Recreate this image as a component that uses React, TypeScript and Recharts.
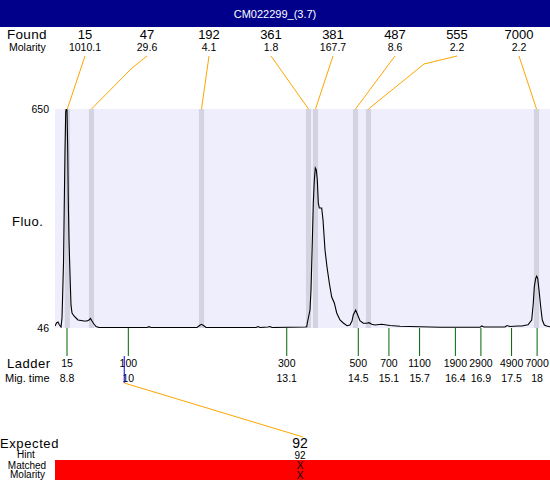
import React from 'react';
import { ComposedChart, Line, XAxis, YAxis, CartesianGrid, ReferenceArea, Customized } from 'recharts';

// ---------- data ----------
const title = 'CM022299_(3.7)';

const traceTimes = [
  8.565, 8.595, 8.624, 8.653, 8.683, 8.702, 8.712, 8.732, 8.745, 8.761, 8.775, 8.786, 8.8, 8.814, 8.825,
  8.839, 8.859, 8.878, 8.898, 8.937, 8.976, 9.015, 9.074, 9.133, 9.191, 9.231, 9.26, 9.289, 9.328, 9.368,
  9.426, 10.366, 10.405, 10.444, 11.344, 11.393, 11.432, 11.471, 11.52, 12.499, 12.538, 12.577, 12.733,
  12.773, 12.812, 13.458, 13.491, 13.503, 13.555, 13.575, 13.6, 13.62, 13.64, 13.659, 13.679, 13.698,
  13.718, 13.737, 13.784, 13.81, 13.849, 13.888, 13.933, 13.98, 14.031, 14.078, 14.142, 14.207, 14.28,
  14.337, 14.377, 14.402, 14.449, 14.481, 14.533, 14.598, 14.665, 14.71, 14.763, 14.827, 14.958, 15.12,
  15.316, 15.708, 16.1, 16.882, 16.915, 16.96, 17.371, 17.41, 17.469, 17.626, 17.704, 17.796, 17.822,
  17.894, 17.925, 17.945, 17.972, 17.992, 18.011, 18.037, 18.07, 18.101, 18.141, 18.188, 18.252,
];
const traceFluo = [
  51.5, 59.8, 62.5, 54.3, 48.8, 73.6, 123.2, 228, 371, 537, 642, 650, 647, 537, 399,
  289, 192, 109, 87.4, 79.1, 73.6, 68.1, 66.7, 65.3, 65.3, 68.1, 72.2, 65.3, 57, 50.1,
  47.4, 47.4, 49.6, 47.4, 47.4, 52.9, 56.2, 52.9, 47.4, 47.4, 50.1, 47.4, 48.8,
  50.1, 47.4, 48.8, 49.6, 59.8, 95.6, 150.8, 280.4, 390.8, 454.2, 487.3, 481.8, 454.2,
  390.8, 377.1, 377.1, 343.9, 261.1, 214.2, 170.1, 131.5, 115, 87.4, 68.1, 59.8, 52.3,
  54.3, 65.3, 81.9, 95.6, 84.6, 66.1, 59, 59, 60.6, 56.2, 54.3, 56.2, 52.9,
  50.7, 49.6, 47.9, 47.9, 51.5, 48.8, 48.8, 52.9, 50.1, 51.5, 51.5, 54.3, 55,
  68.1, 114.1, 159.9, 183.1, 189.4, 183.1, 150.8, 104.7, 68.1, 54.3, 51.5, 49.6,
];

const yTicks = [46, 650];
const timeDomain: [number, number] = [8.565, 18.252];

const foundSizes = ['15', '47', '192', '361', '381', '487', '555', '7000'];
const foundMolarity = ['1010.1', '29.6', '4.1', '1.8', '167.7', '8.6', '2.2', '2.2'];
const foundTimes = [8.806, 9.279, 11.432, 13.526, 13.663, 14.446, 14.7, 17.988];

const ladderSizes = ['15', '100', '300', '500', '700', '1100', '1900', '2900', '4900', '7000'];
const ladderTimes = [8.8, 10, 13.1, 14.5, 15.1, 15.7, 16.4, 16.9, 17.5, 18];
const ladderTimeLabels = ['8.8', '10', '13.1', '14.5', '15.1', '15.7', '16.4', '16.9', '17.5', '18'];

const expectedSize = '92';
const expectedTime = 9.92;
const hintSize = '92';
const matchedMark = 'X';
const molarityMark = 'X';

const chartData = traceTimes.map((t, i) => ({ t, fluo: traceFluo[i] }));

// ---------- styles / layout ----------
const FONT = '"Liberation Sans", Arial, Helvetica, sans-serif';
const BG = '#EEEEFC';
const BAND = '#D3D3E1';
const ORANGE = '#FFA500';
const GREEN = '#006400';
const BAND_HALF = 0.05;
const FOUND_X0 = 85;
const FOUND_STEP = 62;
const FOUND_LINE_Y = 56;
const foundBends: (null | [number, number])[] = [null, [132, 68], null, null, null, null, [424, 64], null];
const COL_X = 300;

function PeakTick(props: any) {
  const { x, y, index } = props;
  const lx = FOUND_X0 + index * FOUND_STEP;
  const bend = foundBends[index];
  const pts: [number, number][] = [[lx, FOUND_LINE_Y]];
  if (bend) pts.push(bend);
  pts.push([x, y]);
  return (
    <g>
      <polyline points={pts.map((p) => p.join(',')).join(' ')} fill="none" stroke={ORANGE} strokeWidth={1} />
      <text x={lx} y={34} textAnchor="middle" dominantBaseline="central" fontSize={13} fill="#000" fontFamily={FONT}>
        {foundSizes[index]}
      </text>
      <text x={lx} y={46.5} textAnchor="middle" dominantBaseline="central" fontSize={10.5} fill="#000" fontFamily={FONT}>
        {foundMolarity[index]}
      </text>
    </g>
  );
}

function LadderTick(props: any) {
  const { x, y, index } = props;
  if (index < ladderSizes.length) {
    return (
      <g>
        <line x1={x} y1={y} x2={x} y2={y + 28} stroke={GREEN} strokeWidth={1} />
        <text x={x} y={y + 35} textAnchor="middle" dominantBaseline="central" fontSize={10.5} fill="#000" fontFamily={FONT}>
          {ladderSizes[index]}
        </text>
        <text x={x} y={y + 49.5} textAnchor="middle" dominantBaseline="central" fontSize={10.5} fill="#000" fontFamily={FONT}>
          {ladderTimeLabels[index]}
        </text>
      </g>
    );
  }
  return (
    <g>
      <line x1={x} y1={y + 28} x2={x} y2={y + 55} stroke="#0000FF" strokeWidth={1} />
      <line x1={x} y1={y + 55} x2={COL_X + 3} y2={437} stroke={ORANGE} strokeWidth={1} />
    </g>
  );
}

function StaticParts() {
  const t = (x: number, y: number, s: string, size: number, anchor: string = 'start', fill = '#000', ls = 0) => (
    <text x={x} y={y} textAnchor={anchor as any} dominantBaseline="central" fontSize={size} fill={fill} fontFamily={FONT} letterSpacing={ls}>
      {s}
    </text>
  );
  return (
    <g>
      <rect x={0} y={0} width={550} height={27} fill="#00008B" />
      {t(275, 14, title, 11, 'middle', '#fff')}
      {t(7, 34, 'Found', 13.5, 'start', '#000', 0.3)}
      {t(9, 46.5, 'Molarity', 10.5)}
      {t(12, 221, 'Fluo.', 13, 'start', '#000', 0.5)}
      {t(7, 363, 'Ladder', 13, 'start', '#000', 0.5)}
      {t(5, 377.5, 'Mig. time', 11)}
      {t(0, 443, 'Expected', 13, 'start', '#000', 0.6)}
      {t(26, 454.5, 'Hint', 10, 'middle')}
      <rect x={55} y={460} width={495} height={20} fill="#FF0000" />
      {t(27, 465, 'Matched', 10, 'middle')}
      {t(27.5, 474.5, 'Molarity', 10, 'middle')}
      {t(COL_X, 442.5, expectedSize, 14, 'middle')}
      {t(COL_X, 455, hintSize, 10, 'middle')}
      {t(COL_X, 465.5, matchedMark, 10, 'middle')}
      {t(COL_X, 475, molarityMark, 10, 'middle')}
    </g>
  );
}

export default function App() {
  return (
    <div style={{ position: 'absolute', left: 0, top: 0, width: 550, height: 480, fontFamily: FONT, background: '#fff' }}>
      <ComposedChart width={550} height={480} data={chartData} margin={{ top: 79, right: 0, bottom: 122, left: 0 }}>
        <CartesianGrid horizontal={false} vertical={false} fill={BG} stroke="none" />
        {foundTimes.map((ft, i) => (
          <ReferenceArea key={i} x1={ft - BAND_HALF} x2={ft + BAND_HALF} fill={BAND} fillOpacity={1} stroke="none" />
        ))}
        <XAxis
          dataKey="t"
          type="number"
          domain={timeDomain}
          allowDataOverflow
          ticks={[...ladderTimes, expectedTime]}
          interval={0}
          tickLine={false}
          axisLine={false}
          tickSize={0}
          tickMargin={0}
          height={30}
          tick={(p: any) => <LadderTick {...p} />}
        />
        <XAxis
          xAxisId="peaks"
          orientation="top"
          dataKey="t"
          type="number"
          domain={timeDomain}
          allowDataOverflow
          ticks={foundTimes}
          interval={0}
          tickLine={false}
          axisLine={false}
          tickSize={0}
          tickMargin={0}
          height={30}
          tick={(p: any) => <PeakTick {...p} />}
        />
        <YAxis
          type="number"
          domain={[46, 650]}
          allowDataOverflow
          ticks={yTicks}
          interval={0}
          width={55}
          tickLine={false}
          axisLine={false}
          tickSize={0}
          tickMargin={6}
          tick={{ fontSize: 10.5, fill: '#000', fontFamily: FONT }}
        />
        <Line dataKey="fluo" type="linear" stroke="#000" strokeWidth={1.1} dot={false} isAnimationActive={false} />
        <Customized component={StaticParts} />
      </ComposedChart>
    </div>
  );
}
